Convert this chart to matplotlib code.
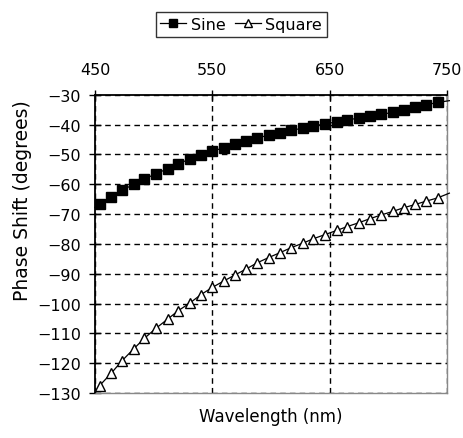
import numpy as np
import matplotlib
matplotlib.use("Agg")
import matplotlib.pyplot as plt

plt.rcParams['font.family'] = ['DejaVu Sans']

# wavelength (nm); first/last entries are the line ends (no marker)
wavelength = [450, 454, 464, 473, 483, 492, 502, 512, 521, 531, 540, 550,
              560, 569, 579, 588, 598, 608, 617, 627, 636, 646, 656, 665,
              675, 684, 694, 704, 713, 723, 732, 742, 752]
sine = [-67.8, -66.6, -64.2, -62.0, -60.1, -58.3, -56.5, -54.8, -53.1, -51.6,
        -50.2, -48.9, -47.8, -46.6, -45.5, -44.5, -43.6, -42.8, -42.0, -41.2,
        -40.5, -39.8, -39.1, -38.5, -37.8, -37.2, -36.6, -35.9, -35.0, -34.2,
        -33.4, -32.6, -32.0]
square = [-130.0, -127.5, -123.3, -119.2, -115.2, -111.7, -108.3, -105.2,
          -102.4, -99.8, -97.1, -94.6, -92.4, -90.5, -88.4, -86.4, -84.6,
          -82.9, -81.3, -79.8, -78.3, -76.9, -75.5, -74.2, -72.9, -71.6,
          -70.3, -69.1, -67.9, -66.8, -65.7, -64.6, -63.0]

x_ticks = [450, 550, 650, 750]
y_ticks = list(range(-30, -131, -10))

fig = plt.figure(figsize=(4.64, 4.39), dpi=100)
ax = fig.add_axes([0.2047, 0.1025, 0.7587, 0.6795])

mk = list(range(1, len(wavelength) - 1))
ax.plot(wavelength, sine, color='black', lw=0.9, marker='s', markersize=7.2,
        markerfacecolor='black', markeredgecolor='black', markevery=mk,
        label='Sine', clip_on=False, zorder=3)
ax.plot(wavelength, square, color='black', lw=0.9, marker='^', markersize=7.5,
        markerfacecolor='white', markeredgecolor='black', markeredgewidth=1,
        markevery=mk, label='Square', clip_on=False, zorder=3)

ax.set_xlim(450, 750)
ax.set_ylim(-130, -30)
ax.set_xticks(x_ticks)
ax.set_yticks(y_ticks)

ax.xaxis.tick_top()
ax.tick_params(axis='x', direction='inout', length=7, width=1, pad=9,
               labelsize=11.5)
ax.tick_params(axis='y', direction='inout', length=8, width=1, pad=6,
               labelsize=11.5)

ax.grid(True, color='black', linestyle=(0, (4, 3)), linewidth=1)

for side in ['left', 'top']:
    ax.spines[side].set_color('black')
    ax.spines[side].set_linewidth(1.3)
for side in ['right', 'bottom']:
    ax.spines[side].set_color('#888888')
    ax.spines[side].set_linewidth(1.0)

ax.set_xlabel('Wavelength (nm)', fontsize=12, labelpad=10)
ax.xaxis.set_label_position('bottom')
ax.set_ylabel('Phase Shift (degrees)', fontsize=13.5)
ax.yaxis.set_label_coords(-0.178, 0.647)

leg = fig.legend(loc='center', bbox_to_anchor=(0.52, 0.942), ncol=2,
                 fontsize=11.5, frameon=True, fancybox=False,
                 handlelength=1.6, handletextpad=0.3, columnspacing=0.6,
                 borderpad=0.3, markerscale=0.8)
leg.get_frame().set_edgecolor('black')
leg.get_frame().set_linewidth(1.0)

fig.savefig('out.png', dpi=100)
